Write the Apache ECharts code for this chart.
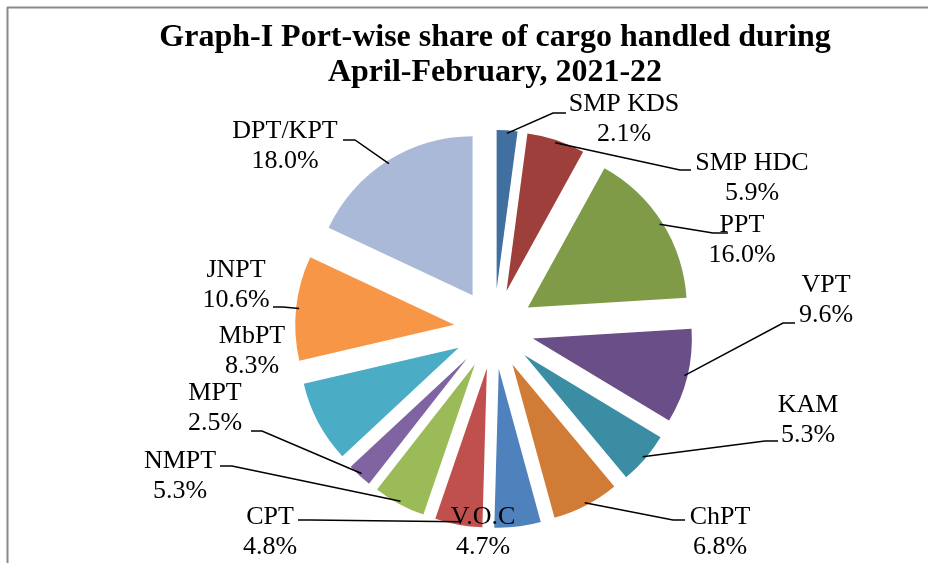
<!DOCTYPE html>
<html>
<head>
<meta charset="utf-8">
<script src="https://cdn.jsdelivr.net/npm/echarts@6/dist/echarts.min.js"></script>
<style>
  html, body { margin: 0; padding: 0; background: #fff; }
  #chart { width: 928px; height: 563px; }
</style>
</head>
<body>
<div id="chart"></div>
<script>
// data (clockwise from 12 o'clock)
const ports = ["SMP KDS", "SMP HDC", "PPT", "VPT", "KAM", "ChPT", "V.O.C", "CPT", "NMPT", "MPT", "MbPT", "JNPT", "DPT/KPT"];
const shares = [2.1, 5.9, 16.0, 9.6, 5.3, 6.8, 4.7, 4.8, 5.3, 2.5, 8.3, 10.6, 18.0];
const colors = ["#416f9f", "#9e3f3c", "#7f9b47", "#694e87", "#3a8da3", "#d07c36", "#4f81bd", "#c0504d", "#9bbb59", "#8064a2", "#4bacc6", "#f79646", "#a9b9d7"];

// label placement as in the Excel original: text centre, and the
// horizontal tick of the leader line next to the label (null = no line)
const labelPos = [
  [624, 119], [752, 178], [742, 240], [826, 300], [808, 420], [720, 532],
  [483, 532], [270, 532], [180, 476], [215, 408], [252, 351], [236, 285], [285, 146]
];
const leaderTick = [
  [566, 553, 113], [691, 680, 170], [728, 713, 233], [795, 783, 323], [778, 765, 441], [685, 673, 520],
  null, [298, 310, 520], [220, 232, 466], [251, 262, 431], null, [273, 283, 307], [343, 355, 140]
];

const pieOffset = 40;

let myChart = echarts.init(document.getElementById("chart"));

let option = {
  animation: false,
  title: {
    text: "Graph-I Port-wise share of cargo handled during\nApril-February, 2021-22",
    left: 490,
    top: 15,
    textAlign: "center",
    textStyle: {
      fontFamily: "Liberation Serif",
      fontWeight: "bold",
      fontSize: 32,
      lineHeight: 35,
      color: "#000",
    },
  },
  series: [
    {
      type: "pie",
      center: [494, 329],
      radius: 159,
      startAngle: 90,
      clockwise: true,
      selectedMode: "multiple",
      selectedOffset: pieOffset,
      emphasis: { disabled: true },
      itemStyle: { borderWidth: 0 },
      label: { show: false },
      labelLine: { show: false },
      data: ports.map(function (name, i) {
        return {
          name: name,
          value: shares[i],
          selected: true,
          itemStyle: { color: colors[i] },
        };
      }),
    },
  ],
};

myChart.setOption(option);

// labels + leader lines, anchored on the sectors the pie actually laid out
let pieData = myChart.getModel().getSeriesByIndex(0).getData();
let graphics = [
  {
    type: "line",
    shape: { x1: 7, y1: 7.5, x2: 940, y2: 7.5 },
    style: { stroke: "#8a8a8a", lineWidth: 2 },
    silent: true,
  },
  {
    type: "line",
    shape: { x1: 7.5, y1: 7, x2: 7.5, y2: 570 },
    style: { stroke: "#8a8a8a", lineWidth: 2 },
    silent: true,
  },
];

ports.forEach(function (name, i) {
  let pos = labelPos[i];
  graphics.push({
    type: "text",
    silent: true,
    z: 100,
    style: {
      text: name + "\n" + shares[i].toFixed(1) + "%",
      x: pos[0],
      y: pos[1],
      align: "center",
      verticalAlign: "middle",
      textAlign: "center",
      textVerticalAlign: "middle",
      fontFamily: "Liberation Serif",
      fontSize: 26,
      lineHeight: 30,
      fill: "#000",
    },
  });
  let tick = leaderTick[i];
  if (!tick) return;
  let lay = pieData.getItemLayout(i);
  let mid = (lay.startAngle + lay.endAngle) / 2;
  let dist = pieOffset + lay.r - 3;
  let sx = lay.cx + Math.cos(mid) * dist;
  let sy = lay.cy + Math.sin(mid) * dist;
  graphics.push({
    type: "polyline",
    silent: true,
    z: 100,
    shape: { points: [[tick[0], tick[2]], [tick[1], tick[2]], [sx, sy]] },
    style: { stroke: "#000", lineWidth: 1.5, fill: null },
  });
});

myChart.setOption({ graphic: graphics });
</script>
</body>
</html>
